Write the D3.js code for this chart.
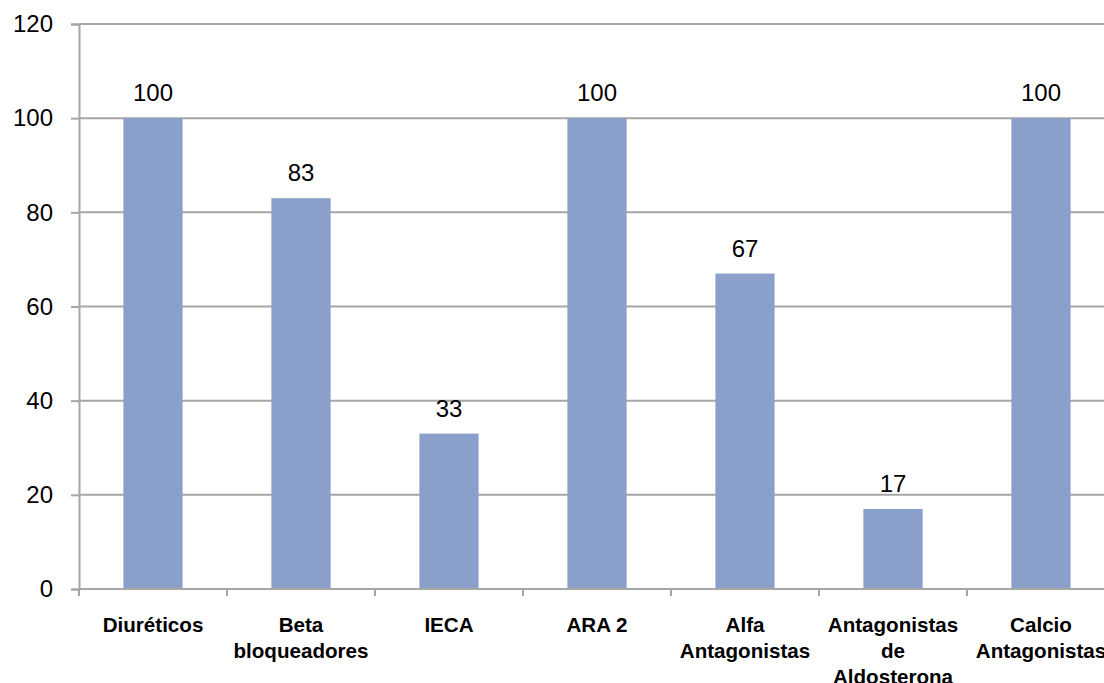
<!DOCTYPE html>
<html>
<head>
<meta charset="utf-8">
<script src="https://cdn.jsdelivr.net/npm/d3@7"></script>
<style>
  html, body { margin: 0; padding: 0; background: #fff; overflow: hidden; }
  svg { display: block; font-family: "Liberation Sans", Arial, sans-serif; }
</style>
</head>
<body>
<svg id="chart" width="1104" height="683"></svg>
<script>
// Antihypertensive drug classes (percent)
const categories = [
  "Diuréticos",
  "Beta\nbloqueadores",
  "IECA",
  "ARA 2",
  "Alfa\nAntagonistas",
  "Antagonistas\nde\nAldosterona",
  "Calcio\nAntagonistas"
];
const values = [100, 83, 33, 100, 67, 17, 100];
const yTicks = [0, 20, 40, 60, 80, 100, 120];

const svg = d3.select("#chart");

const plotLeft = 79, plotRight = 1115, plotTop = 24, plotBottom = 589;
const barColor = "#8AA0CB";
const gridColor = "#A6A6A6";

const xBand = d3.scaleBand().domain(categories).range([plotLeft, plotRight]).padding(0);
const xBar = d3.scaleBand().domain(categories).range([plotLeft, plotRight])
  .paddingInner(0.6).paddingOuter(0.3);
const y = d3.scaleLinear().domain([0, 120]).range([plotBottom, plotTop]);

// horizontal gridlines
svg.append("g").selectAll("line")
  .data(yTicks.filter(d => d > 0))
  .join("line")
  .attr("x1", plotLeft).attr("x2", 1104)
  .attr("y1", d => y(d)).attr("y2", d => y(d))
  .attr("stroke", gridColor).attr("stroke-width", 2);

// value axis
const yAxis = d3.axisLeft(y).tickValues(yTicks).tickSize(8).tickPadding(18);
const gy = svg.append("g").attr("transform", `translate(${plotLeft},0)`).call(yAxis);
gy.select(".domain").attr("stroke", gridColor).attr("stroke-width", 2);
gy.selectAll(".tick line").attr("stroke", gridColor).attr("stroke-width", 2);
gy.selectAll(".tick text")
  .attr("font-size", 24).attr("fill", "#000")
  .attr("font-family", "'Liberation Sans', Arial, sans-serif");

// bars
svg.append("g").selectAll("rect")
  .data(values)
  .join("rect")
  .attr("x", (d, i) => xBar(categories[i]))
  .attr("width", xBar.bandwidth())
  .attr("y", d => y(d))
  .attr("height", d => y(0) - y(d))
  .attr("fill", barColor);

// value labels
svg.append("g").selectAll("text")
  .data(values)
  .join("text")
  .attr("x", (d, i) => xBar(categories[i]) + xBar.bandwidth() / 2)
  .attr("y", d => y(d) - 17)
  .attr("text-anchor", "middle")
  .attr("font-size", 24)
  .attr("fill", "#000")
  .text(d => d);

// category axis
const gx = svg.append("g");
gx.append("line")
  .attr("x1", plotLeft).attr("x2", 1104)
  .attr("y1", plotBottom).attr("y2", plotBottom)
  .attr("stroke", gridColor).attr("stroke-width", 2);
gx.selectAll("line.tick")
  .data(categories.concat([null]))
  .join("line")
  .attr("class", "tick")
  .attr("x1", d => d === null ? plotRight : xBand(d))
  .attr("x2", d => d === null ? plotRight : xBand(d))
  .attr("y1", plotBottom).attr("y2", plotBottom + 7)
  .attr("stroke", gridColor).attr("stroke-width", 2);

const labels = gx.selectAll("text.cat")
  .data(categories)
  .join("text")
  .attr("class", "cat")
  .attr("text-anchor", "middle")
  .attr("font-size", 20.6)
  .attr("font-weight", "bold")
  .attr("fill", "#000");
labels.each(function(d) {
  const t = d3.select(this);
  const cx = xBand(d) + xBand.bandwidth() / 2;
  d.split("\n").forEach((line, i) => {
    t.append("tspan")
      .attr("x", cx)
      .attr("y", 632 + i * 26)
      .text(line);
  });
});
</script>
</body>
</html>
